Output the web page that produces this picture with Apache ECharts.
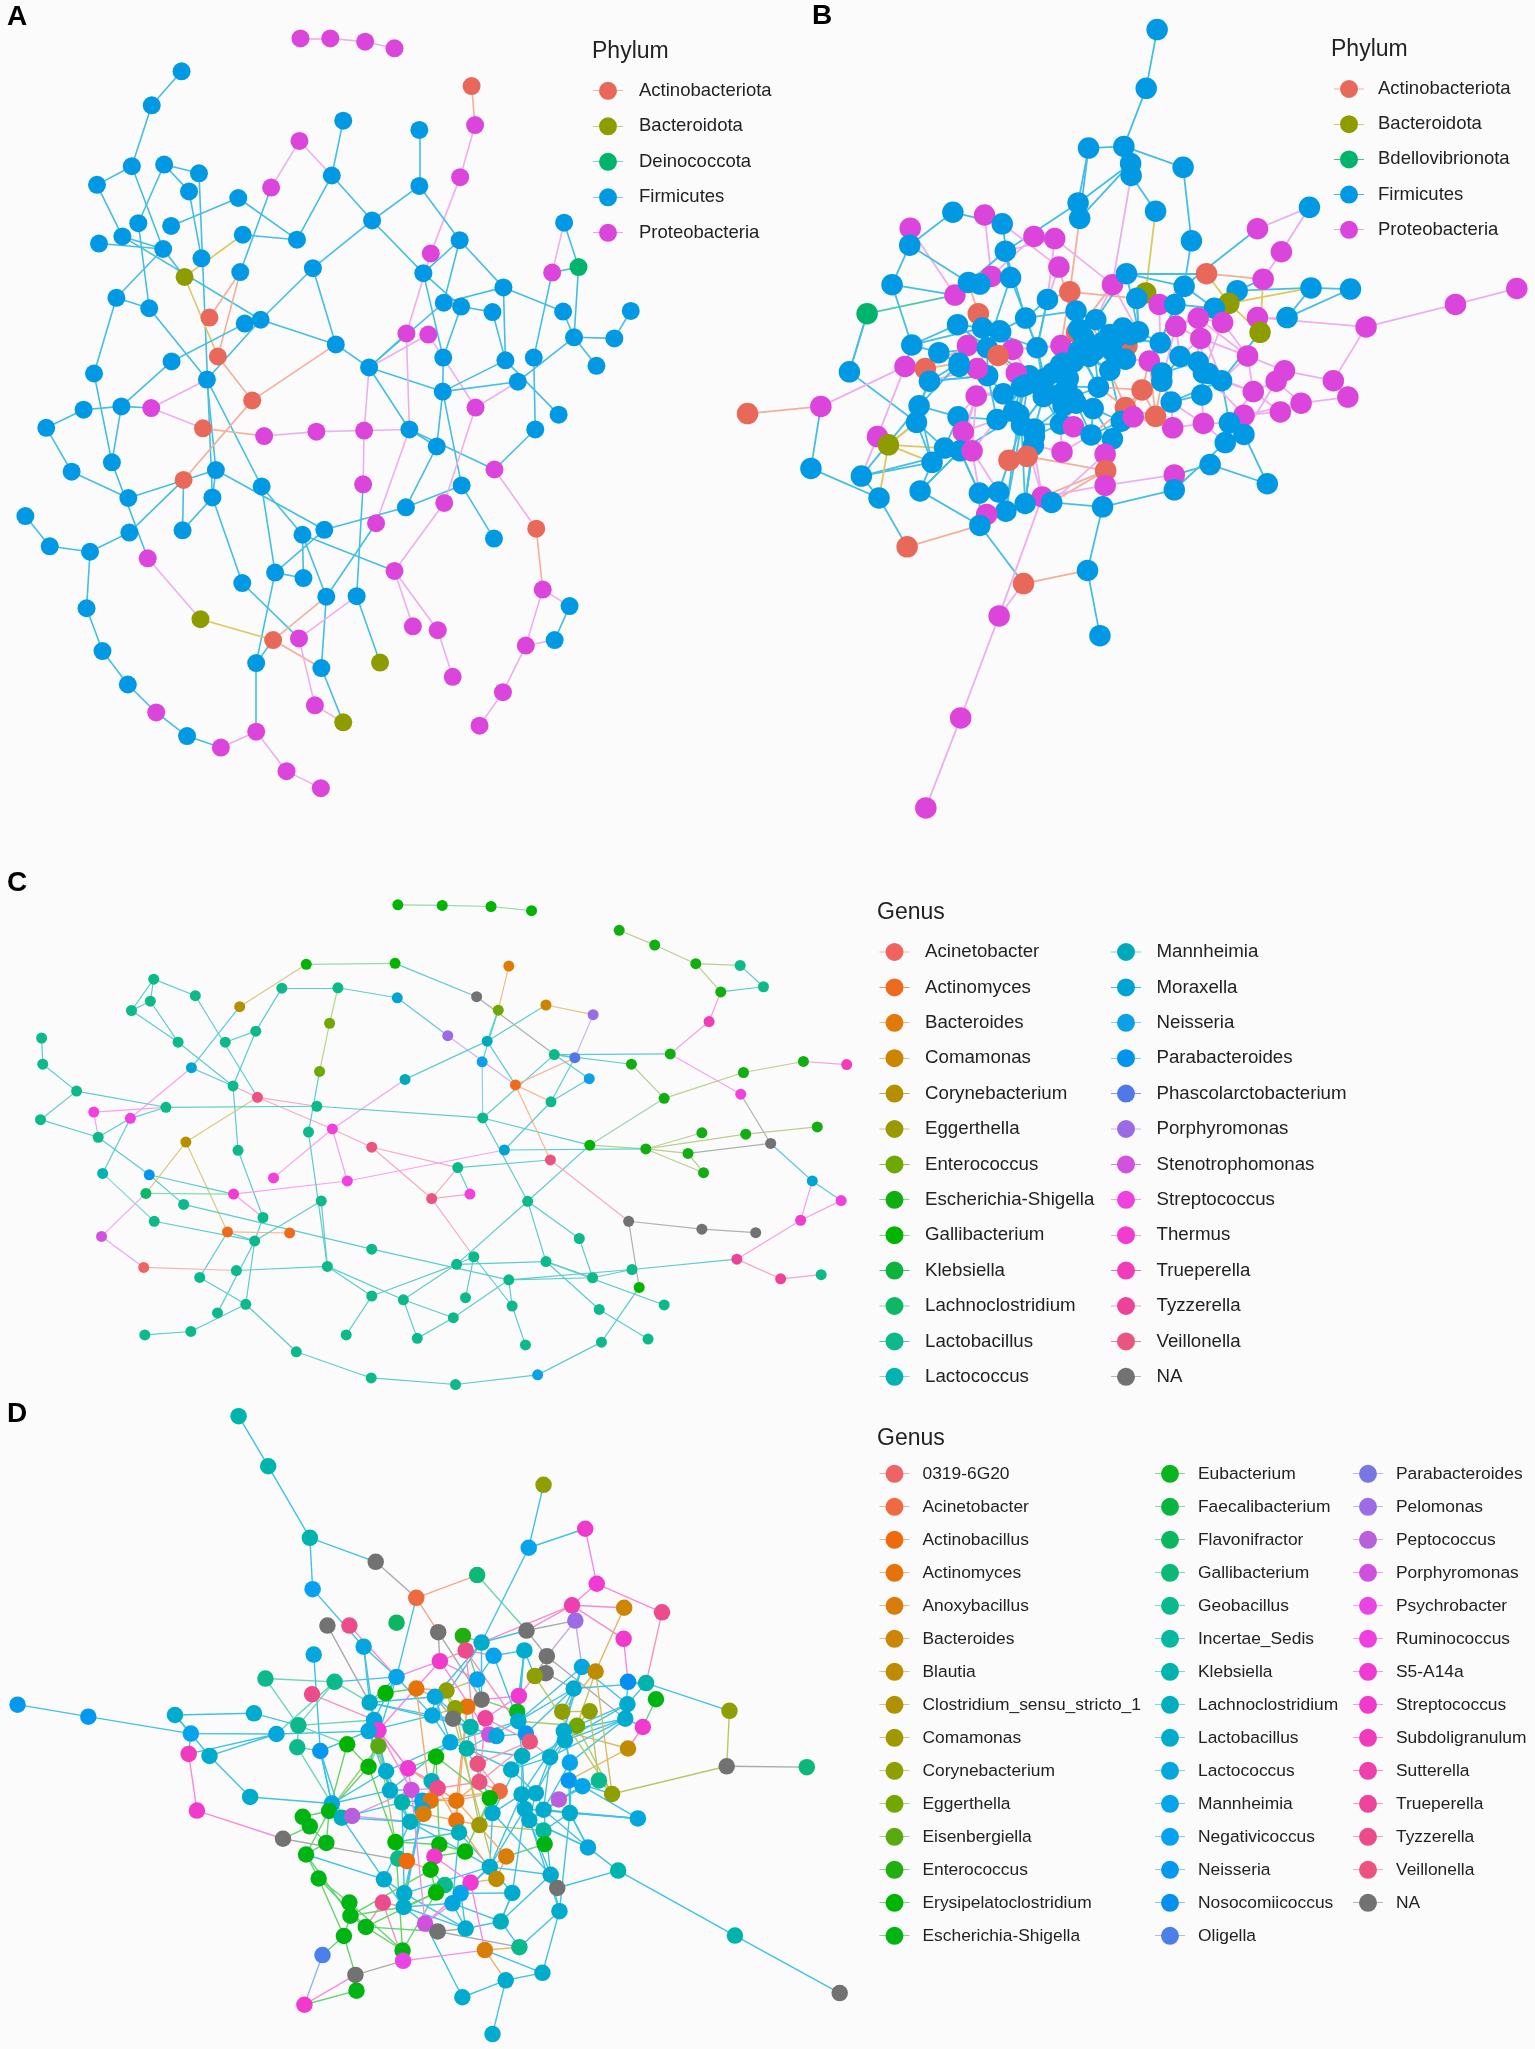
<!DOCTYPE html>
<html><head><meta charset="utf-8">
<style>html,body{margin:0;padding:0;background:#fcfbfb}#c{width:1535px;height:2049px}</style>
<script src="https://cdn.jsdelivr.net/npm/echarts@6/dist/echarts.min.js"></script>
</head><body><div id="c"></div>
<script>
// ---------- categories ----------
const phylaA=['Actinobacteriota','Bacteroidota','Deinococcota','Firmicutes','Proteobacteria'];
const phylaB=['Actinobacteriota','Bacteroidota','Bdellovibrionota','Firmicutes','Proteobacteria'];
const phylaColors=['#E8685A','#8F9C00','#00B46E','#0299E4','#DC45DC'];
const phylaEdgeColors=['#F4AE9C','#DCC860','#50C8B0','#44BEE4','#EEAEEE'];
const generaC=['Acinetobacter','Actinomyces','Bacteroides','Comamonas','Corynebacterium','Eggerthella','Enterococcus','Escherichia-Shigella','Gallibacterium','Klebsiella','Lachnoclostridium','Lactobacillus','Lactococcus','Mannheimia','Moraxella','Neisseria','Parabacteroides','Phascolarctobacterium','Porphyromonas','Stenotrophomonas','Streptococcus','Thermus','Trueperella','Tyzzerella','Veillonella','NA'];
const colorsC=['#EF6461','#EE6A1E','#E07B09','#CC8500','#B49000','#999900','#6FA800','#10AE10','#00B400','#0CB43C','#0CB865','#0CB98A','#00B2B0','#00AABA','#00A4D4','#0BA0E8','#0494F0','#5079E6','#9B6BE5','#D053E0','#F040E0','#F03CD0','#F03CB8','#EC4399','#EA5480','#727272'];
const edgeOverridesC={7:'#B8CF90',8:'#9CD3B0',11:'#5CCCCB',14:'#5CC8E0',25:'#B0B0B0'};
const generaD=['0319-6G20','Acinetobacter','Actinobacillus','Actinomyces','Anoxybacillus','Bacteroides','Blautia','Clostridium_sensu_stricto_1','Comamonas','Corynebacterium','Eggerthella','Eisenbergiella','Enterococcus','Erysipelatoclostridium','Escherichia-Shigella','Eubacterium','Faecalibacterium','Flavonifractor','Gallibacterium','Geobacillus','Incertae_Sedis','Klebsiella','Lachnoclostridium','Lactobacillus','Lactococcus','Mannheimia','Negativicoccus','Neisseria','Nosocomiicoccus','Oligella','Parabacteroides','Pelomonas','Peptococcus','Porphyromonas','Psychrobacter','Ruminococcus','S5-A14a','Streptococcus','Subdoligranulum','Sutterella','Trueperella','Tyzzerella','Veillonella','NA'];
const colorsD=['#EE6464','#EE6A40','#EE6A0C','#E6730A','#D97D0A','#CC8504','#BF8C00','#B09200','#A09800','#8F9E00','#74A600','#58AA10','#20AE10','#00B400','#00B414','#08B420','#0AB440','#0AB660','#0CB878','#0CB98C','#06B8A0','#00B4AE','#00AEC0','#00ABCE','#04A6DE','#06A4EA','#08A0F0','#0698F0','#0490EC','#4C80E8','#7878E4','#9C6CE4','#B860DC','#D050E0','#E845E4','#F03EE0','#F03AD4','#F03ACC','#F03CBC','#EE40AC','#EE449C','#EC4C8C','#EC5480','#727272'];
// ---------- panel A: [x, y, phylum index] on a 0-1568 plot scale; edges [a, b, optional colour category] ----------
const nodesA=[[604,70,4],[664,70,4],[734,76,4],[793,88,4],[948,157,0],[955,228,4],[925,323,4],[866,462,4],[365,130,3],[305,192,3],[265,303,3],[195,337,3],[330,300,3],[400,316,3],[380,349,3],[278,407,3],[344,412,3],[479,361,3],[246,431,3],[199,444,3],[328,454,3],[405,471,3],[488,428,3],[371,505,1],[483,496,3],[545,342,4],[602,257,4],[667,320,3],[690,220,3],[843,237,3],[843,339,3],[748,402,3],[597,437,3],[629,489,3],[924,438,3],[851,498,3],[234,543,3],[300,562,3],[421,579,0],[492,590,3],[524,583,3],[438,650,0],[345,659,3],[189,681,3],[416,692,3],[507,730,0],[675,628,3],[742,670,3],[817,608,4],[861,610,4],[892,552,3],[927,559,3],[990,569,3],[1012,524,3],[1132,568,3],[1134,406,3],[1110,497,4],[1163,487,2],[1154,615,3],[1235,617,3],[1268,567,3],[1199,667,3],[891,652,3],[890,714,3],[1016,657,3],[1041,696,3],[1073,652,3],[1123,756,3],[1076,783,3],[956,743,4],[994,856,4],[823,783,3],[732,785,4],[636,787,4],[531,795,4],[408,781,0],[304,744,4],[244,741,3],[168,747,3],[93,780,3],[144,860,3],[225,843,3],[258,908,3],[369,875,0],[434,857,3],[427,907,3],[367,967,3],[526,887,3],[730,883,4],[878,814,3],[928,885,3],[893,917,4],[816,925,3],[756,954,4],[652,966,3],[608,975,3],[993,982,3],[1078,964,0],[51,941,3],[100,996,3],[181,1006,3],[260,971,3],[297,1018,4],[553,1044,3],[610,1054,3],[487,1063,3],[793,1041,4],[656,1088,3],[717,1087,3],[1091,1075,4],[1145,1105,3],[1115,1167,3],[1057,1177,4],[174,1109,3],[403,1129,1],[549,1167,0],[601,1164,4],[830,1142,4],[880,1149,4],[206,1187,3],[515,1209,3],[646,1218,3],[764,1208,1],[910,1234,4],[1011,1262,4],[257,1248,3],[633,1286,4],[690,1317,1],[964,1323,4],[314,1299,4],[376,1342,3],[444,1363,4],[515,1334,4],[576,1406,4],[645,1437,4]];
const edgesA=[[0,1],[1,2],[2,3],[4,5],[5,6],[6,7],[8,9],[9,10],[10,11],[10,20],[11,18],[12,13],[12,14],[12,15],[13,85],[14,21],[15,37],[16,17],[17,32],[18,20],[18,40],[19,20],[20,36],[23,22],[20,23,3],[22,32],[23,41],[24,38],[24,41],[24,25,3],[25,26],[26,27],[27,28],[27,31],[27,32],[29,30],[30,31],[30,34],[31,33],[31,35],[33,40],[33,46],[34,53],[34,50],[34,35],[7,48],[35,51],[35,62],[36,43],[36,37],[37,44],[39,42],[40,44],[40,46],[41,45],[42,77],[43,81],[44,76],[44,87],[44,84],[45,46],[45,83],[46,47],[47,49],[47,50],[47,48,3],[47,63],[47,71],[47,72],[48,71],[49,69],[50,53],[51,52],[51,62],[52,64],[53,54],[53,64],[54,58],[55,56],[55,57,3],[56,66,3],[56,57],[57,58,3],[58,59],[59,60],[58,61],[58,65],[62,63],[63,64],[63,65],[63,89],[63,90],[64,67],[65,69],[66,68],[68,70,3],[70,71,3],[70,97,4],[71,72],[71,89],[71,93],[72,73],[73,74],[74,75],[75,76,4],[76,77,3],[77,78],[77,81],[78,79],[79,80],[80,82],[81,102,3],[82,84],[83,101,3],[83,86,3],[84,85],[84,94],[85,86],[85,105],[87,95],[87,103],[88,72],[88,108,3],[89,92],[90,92],[90,96],[69,91],[91,106],[92,94],[93,107,3],[94,103],[95,104],[95,107],[95,106,3],[97,109],[98,99],[99,100],[100,101],[100,113],[102,114,4],[103,104],[103,120],[105,116,3],[106,117],[106,118],[107,115],[107,121],[108,116],[108,122,3],[109,110],[109,112],[110,111],[111,112],[112,124],[124,128],[113,119],[114,115],[115,121],[115,120,3],[116,126],[118,123],[119,125],[120,132,3],[121,127,3],[126,127,4],[125,129,3],[129,130,3],[130,131,3],[131,132],[132,133],[133,134]];
// ---------- panel B ----------
const nodesB=[[841,54,3],[820,161,3],[777,267,3],[709,270,3],[790,298,3],[791,320,3],[891,305,3],[838,385,3],[907,439,3],[689,370,3],[692,398,3],[448,387,3],[509,392,4],[366,416,4],[365,447,3],[543,408,3],[549,458,3],[604,431,4],[644,435,4],[652,487,4],[331,519,3],[452,538,4],[283,572,2],[522,504,4],[478,515,3],[500,518,3],[559,506,3],[630,546,3],[673,532,0],[755,519,4],[782,499,3],[819,534,1],[802,544,3],[893,522,3],[936,499,0],[1034,417,4],[1134,378,3],[1080,459,4],[1045,509,4],[995,530,3],[979,553,1],[951,562,3],[1137,525,3],[1213,527,3],[1091,579,3],[1034,579,4],[1039,606,1],[1243,596,4],[1415,555,4],[1533,526,4],[497,572,0],[457,592,3],[588,580,3],[369,629,3],[249,678,3],[356,668,4],[395,672,0],[421,643,3],[403,695,3],[476,630,4],[514,634,3],[563,637,4],[535,648,0],[538,603,3],[505,598,3],[610,634,3],[656,630,4],[686,606,0],[685,567,3],[723,583,3],[735,625,3],[775,598,3],[805,605,3],[783,630,0],[847,625,3],[845,555,4],[875,555,3],[877,595,4],[920,580,4],[967,588,4],[925,617,4],[885,650,3],[920,660,3],[1015,649,4],[965,694,3],[930,680,3],[850,695,3],[826,658,4],[780,655,3],[750,675,3],[710,650,3],[680,660,3],[655,665,3],[625,690,3],[595,685,3],[570,680,4],[580,705,3],[545,718,3],[515,685,3],[495,672,4],[460,662,3],[493,722,4],[625,720,3],[675,725,3],[728,706,3],[812,711,0],[927,720,3],[868,733,3],[1026,714,4],[1070,695,4],[1086,676,4],[1180,694,4],[1208,724,4],[1118,735,4],[1078,751,4],[1008,757,4],[980,771,3],[1008,792,3],[972,807,3],[930,772,4],[871,780,4],[838,759,0],[780,743,0],[718,745,3],[772,768,3],[795,760,4],[660,740,3],[575,756,3],[533,765,3],[458,760,3],[383,740,3],[378,770,3],[194,741,4],[53,754,0],[303,796,4],[324,811,1],[175,854,3],[272,868,3],[408,843,3],[432,817,3],[468,787,4],[462,822,3],[485,822,4],[580,775,3],[605,782,3],[655,773,3],[680,778,4],[714,793,3],[755,800,3],[658,824,4],[741,828,4],[603,812,3],[556,839,0],[591,832,0],[742,858,0],[741,885,4],[874,866,4],[943,847,3],[874,893,3],[1053,882,3],[306,908,3],[385,895,3],[499,899,3],[536,897,3],[620,906,4],[638,916,3],[587,918,3],[550,932,3],[513,938,4],[500,958,3],[736,924,3],[360,997,0],[584,1064,0],[707,1040,3],[731,1159,3],[537,1123,4],[463,1309,4],[396,1473,4],[690,640,3],[720,640,3],[755,640,3],[670,690,3],[650,720,3],[685,735,3],[690,600,3],[700,615,3],[790,610,3],[750,610,3],[610,700,3],[540,605,3],[460,668,3],[605,795,3],[565,750,3],[850,680,3],[763,614,3],[696,647,3],[661,662,3],[667,705,3],[680,726,3],[664,738,3],[622,723,3],[587,702,3],[940,681,3],[640,680,3]];
const edgesB=[[0,1],[1,2],[2,3],[2,4],[2,6],[3,9],[4,5],[4,9],[5,7],[5,29],[6,8],[7,31],[8,33],[9,10],[3,10],[10,28],[4,10],[9,16],[11,14],[11,15],[12,23],[13,21],[14,20],[14,24],[15,19],[15,26],[16,18],[17,23],[18,29],[19,27],[20,21,3],[20,53],[21,22,2],[21,25],[22,54,3],[23,24],[16,24],[16,26],[24,25],[25,26],[27,28],[28,32],[29,30],[30,33],[30,34,3],[34,38],[34,40],[33,41],[35,36],[35,33,3],[36,37],[37,38],[38,39,3],[39,41],[39,42],[40,42],[41,77],[42,43],[42,44],[43,44],[44,45],[45,47],[46,38],[46,40],[46,84,3],[47,48],[48,49],[47,111],[111,112],[111,110],[110,109],[113,112],[114,113],[113,115],[109,108],[109,117],[110,83],[83,78],[84,85],[50,64],[50,63],[51,64],[51,53],[52,65],[52,27],[53,57],[53,55,3],[54,131],[54,22,3],[55,132],[55,56],[56,57,3],[57,100],[58,100],[58,56],[58,130],[59,60],[60,63],[60,98],[61,65],[62,98],[63,64],[64,65],[65,66],[66,67],[67,68],[68,69],[69,70],[70,71],[71,72],[72,74],[74,75],[75,76],[76,77],[77,78],[78,79],[79,83],[80,77],[80,85],[81,82],[82,85],[85,84],[84,83],[86,87],[87,88],[88,89],[89,90],[90,91],[91,92],[92,93],[93,94],[94,95],[95,96],[96,97],[97,98],[98,99],[99,100],[100,59],[101,97],[101,129],[102,103],[103,104],[104,88],[105,86],[105,122],[106,85],[106,107],[107,121],[108,84],[108,83],[116,117],[116,115],[117,118],[118,119],[119,120],[120,121],[121,122],[122,125],[124,125],[123,124],[123,126],[126,145],[127,128],[128,129],[129,130],[130,131],[131,135],[134,135],[134,55],[135,139],[137,138],[137,134],[136,132,3],[132,133],[136,160],[160,171,3],[160,137],[161,138],[161,169],[138,139],[139,141],[140,141],[141,142],[142,101],[143,144],[144,151],[145,146],[146,147],[147,148],[148,150],[149,151],[150,154],[151,153],[152,153],[152,163],[153,154],[154,155],[155,156],[156,157,3],[156,158],[157,159],[158,170],[155,170],[154,164],[162,163],[162,169],[163,167],[164,165],[165,166],[166,167],[167,168],[168,169],[169,172,3],[170,173],[172,173],[172,175,4],[173,174],[175,176],[176,177],[164,175],[171,169],[165,170],[178,179],[179,180],[180,88],[178,90],[178,70],[185,184],[184,69],[185,178],[186,72],[187,71],[187,70],[181,91],[181,103],[182,126],[182,102],[183,103],[183,123],[188,93],[188,102],[189,63],[189,60],[190,100],[190,59],[191,144],[191,151],[192,127],[192,97],[193,86],[193,82],[28,70],[28,68],[29,72],[32,72],[32,76],[31,75],[33,76],[26,60],[26,65],[27,65],[24,50],[16,52],[19,67],[18,27],[60,94],[62,95],[61,94],[65,93],[66,92],[67,91],[70,90],[73,88],[74,87],[74,81],[77,81],[78,82],[80,81],[81,86],[86,107],[87,105],[105,121],[121,124],[122,124],[104,123],[103,126],[97,127],[96,127],[94,102],[93,102],[143,127],[143,145],[145,149],[149,147],[147,124],[148,124],[129,141],[129,140],[101,140],[131,139],[135,138],[130,58],[58,98],[56,100],[100,98],[99,60],[141,162],[141,161],[142,162],[142,163],[143,163],[144,166],[151,166],[151,164],[150,170],[154,165],[155,164],[148,154],[147,150],[125,120],[107,120],[106,119],[119,116],[118,158],[116,84],[117,159],[116,108],[85,115],[115,114],[114,108],[113,109],[108,85],[84,107],[194,71],[194,187],[195,178],[195,90],[196,92],[196,91],[197,181],[197,103],[198,183],[199,182],[199,126],[200,102],[200,93],[201,94],[201,96],[202,85],[202,84],[203,93],[203,92],[197,145],[197,123],[198,147],[199,146],[200,143],[200,144],[201,127],[201,128],[196,66],[195,104],[195,89],[197,104],[194,88],[194,74],[178,104],[179,104],[180,104],[89,122],[89,124],[104,105],[104,122],[123,147],[123,148],[126,144],[145,191],[102,143],[94,143],[96,192],[96,128],[96,101],[98,101],[98,128],[200,145],[143,151],[127,141],[128,142],[128,140],[129,139],[130,138],[131,138],[60,51],[60,57],[64,53],[59,56],[98,58],[99,58],[100,130],[101,141],[52,68],[52,63],[65,27],[65,102],[66,28],[67,29],[68,28],[69,29],[69,30],[72,30],[72,32],[74,33],[74,76],[75,33],[76,41],[77,33],[77,86],[78,84],[79,85],[80,83],[82,84],[85,108],[86,121],[87,121],[87,107],[107,119],[105,124],[105,148],[122,147],[124,155],[148,155],[148,170],[150,165],[164,143],[166,151],[166,143],[167,143],[167,127],[162,141],[161,141],[137,141],[137,130],[160,135],[135,131]];
// ---------- panel C ----------
const nodesC=[[717,101,8],[797,103,8],[885,106,8],[958,118,8],[1116,175,7],[1180,218,7],[1254,272,7],[1334,277,11],[1376,339,11],[1299,354,7],[1278,440,22],[1208,534,7],[1138,564,7],[1197,663,7],[1340,588,7],[1448,556,7],[1526,565,22],[1335,651,20],[1265,763,7],[1344,767,7],[1473,746,7],[1063,799,8],[1164,810,7],[1240,823,7],[1268,879,7],[1389,794,25],[1464,903,14],[1516,960,20],[1443,1017,21],[1328,1130,23],[1407,1187,23],[1480,1175,11],[1133,1020,25],[1265,1043,25],[1362,1053,25],[1139,1160,11],[1152,1212,8],[1197,1263,11],[1168,1362,11],[1080,1276,11],[1084,1371,11],[969,1466,15],[821,1494,11],[669,1475,11],[534,1399,11],[443,1261,11],[392,1286,11],[344,1340,11],[261,1350,11],[426,1163,11],[360,1183,11],[459,1077,11],[474,1009,11],[410,1051,1],[522,1054,1],[670,1101,11],[590,1151,11],[670,1237,11],[727,1248,11],[624,1350,11],[752,1360,11],[817,1300,11],[839,1242,11],[823,1145,11],[854,1123,11],[917,1190,11],[923,1266,11],[947,1379,11],[984,1137,11],[1068,1184,11],[1044,1070,11],[951,962,11],[992,842,24],[909,813,14],[870,720,11],[993,673,11],[929,624,1],[869,557,15],[878,497,13],[898,407,6],[917,279,2],[859,368,25],[984,392,3],[1069,420,18],[999,536,11],[1036,545,17],[1062,606,15],[807,481,18],[730,608,13],[716,371,14],[609,342,11],[508,343,11],[552,274,8],[712,271,8],[594,445,6],[576,585,6],[571,686,11],[556,761,11],[599,752,20],[670,805,24],[825,864,11],[847,941,20],[778,954,24],[626,903,20],[579,961,11],[493,894,20],[464,660,24],[420,627,11],[429,814,11],[345,574,14],[432,397,4],[461,468,11],[406,500,11],[321,500,11],[237,408,11],[271,381,11],[277,317,11],[352,365,11],[75,488,11],[77,564,11],[138,642,11],[73,725,11],[177,776,11],[235,721,20],[169,703,20],[299,689,11],[335,790,4],[269,885,16],[185,881,12],[263,939,10],[421,941,21],[331,971,11],[278,1020,11],[183,1064,19],[259,1154,0]];
const edgesC=[[0,1],[1,2],[2,3],[4,5],[5,6],[6,7,7],[7,8],[6,9],[8,9,11],[9,10],[10,11],[11,84,11],[11,17],[84,85,11],[84,12,11],[12,13],[13,14],[14,15],[15,16],[13,21],[17,25],[25,26],[26,27,14],[26,28,20],[27,28],[28,29],[29,30],[30,31],[29,35,11],[35,65],[35,69],[21,22,7],[22,18],[22,19],[19,20],[22,23],[23,25],[22,24],[23,24],[73,22,11],[21,74,11],[21,71,11],[71,74],[71,63],[71,68],[71,70],[70,69],[72,76],[72,100,11],[72,32,24],[32,33],[33,34],[32,36,25],[36,40,11],[40,41,11],[41,42,11],[42,43],[43,44],[44,45],[45,50],[45,47],[47,48],[46,51],[45,51],[51,52],[51,53,11],[53,54],[53,50,11],[53,126],[52,108],[52,130],[108,107],[107,106,24],[107,113],[106,96,24],[106,98],[106,126,4],[98,99],[98,103],[98,88,20],[98,105],[99,100,24],[99,102],[100,102,24],[101,102],[100,101,11],[102,64,24],[103,130,20],[103,73,20],[104,51],[104,56],[95,97,11],[97,56],[95,94],[94,90,6],[90,91],[90,89,11],[89,87,14],[91,111],[111,112],[111,107],[92,93],[92,110],[93,81,11],[110,109,14],[109,107],[109,123,20],[113,114],[114,115],[115,116],[114,116],[113,115],[116,117],[117,106,11],[118,119],[119,120],[120,121],[120,125],[121,122],[122,123,11],[122,127,11],[123,125,11],[124,125],[124,122,20],[125,96],[96,74],[123,128,11],[128,132],[132,51],[127,130,11],[127,131,11],[131,55],[129,130],[129,126,4],[129,133,19],[133,134],[134,49,0],[49,56],[56,57],[56,58],[55,65],[57,63],[58,63],[58,61],[58,60],[60,61],[61,65],[57,59],[62,64],[64,66],[63,68],[63,64],[65,66],[66,67],[65,69],[68,69],[68,39],[39,38],[68,37],[74,84],[73,75,11],[75,86,11],[75,85,11],[75,76,1],[76,85,1],[76,78,11],[76,87,18],[77,74,15],[77,79,11],[78,79,11],[78,82,11],[78,88,11],[79,80],[81,84,25],[82,83,3],[83,85,18],[84,86,11]];
// ---------- panel D ----------
const nodesD=[[435,39,21],[489,160,21],[565,333,21],[685,391,43],[570,457,26],[991,205,9],[1067,311,37],[964,357,25],[870,423,18],[759,478,1],[1088,444,36],[1043,496,39],[1138,502,5],[1207,513,41],[597,545,43],[637,545,41],[723,538,17],[799,561,43],[844,570,12],[878,586,23],[960,557,43],[1049,533,31],[1137,577,37],[663,596,24],[572,615,24],[849,605,41],[900,618,25],[956,605,23],[802,631,37],[997,619,43],[1061,645,24],[1086,656,6],[995,660,43],[975,667,9],[723,669,25],[610,681,19],[484,673,19],[569,711,41],[703,708,13],[759,697,3],[814,702,9],[870,675,25],[946,715,36],[1046,697,23],[1145,681,28],[1178,684,21],[1196,723,14],[1330,751,9],[674,731,23],[793,717,24],[878,724,43],[852,741,3],[830,745,9],[943,753,15],[1025,753,9],[1075,752,9],[1144,735,23],[319,761,23],[463,757,23],[32,736,27],[161,765,27],[788,762,24],[826,770,43],[885,769,40],[945,776,23],[1052,787,10],[1140,770,23],[1172,790,37],[682,773,24],[544,786,19],[348,806,25],[504,807,24],[690,798,36],[672,800,24],[858,790,21],[892,808,33],[905,812,24],[959,806,27],[966,825,42],[1028,800,23],[1030,822,23],[633,832,13],[690,836,11],[821,827,24],[851,842,21],[542,839,19],[584,848,27],[344,855,38],[382,860,23],[1145,842,6],[952,860,22],[795,862,13],[1003,863,23],[871,879,42],[1039,876,25],[672,886,13],[744,890,36],[704,897,23],[932,893,23],[787,921,22],[874,923,42],[1037,919,27],[1092,919,19],[1062,933,25],[711,943,23],[750,942,33],[798,938,41],[911,945,1],[951,953,23],[977,950,23],[1116,952,9],[1325,885,43],[1471,887,18],[456,959,23],[733,972,21],[770,968,24],[785,968,3],[832,968,3],[893,962,13],[1019,965,32],[605,975,24],[359,992,37],[600,993,14],[623,1009,22],[642,1005,32],[552,1007,14],[565,1030,14],[770,990,24],[898,998,23],[957,988,23],[991,990,23],[1039,998,23],[1163,1011,24],[748,1019,22],[772,1000,4],[832,1016,3],[874,1027,8],[965,1015,23],[837,1045,22],[991,1040,20],[516,1060,43],[595,1070,14],[721,1068,13],[801,1074,13],[993,1073,14],[1072,1081,24],[558,1098,14],[848,1091,13],[726,1108,19],[742,1114,2],[792,1103,37],[923,1103,4],[785,1135,13],[893,1128,23],[1127,1137,21],[581,1156,14],[700,1158,23],[1004,1147,23],[905,1157,6],[858,1166,36],[811,1172,19],[1016,1179,43],[737,1192,23],[795,1190,13],[840,1192,25],[825,1216,24],[934,1191,23],[637,1214,14],[698,1214,41],[736,1225,23],[639,1246,14],[1020,1235,23],[667,1273,14],[775,1265,33],[913,1260,22],[849,1277,23],[798,1284,43],[627,1295,14],[1340,1294,21],[947,1322,19],[884,1329,4],[734,1330,14],[588,1341,29],[735,1355,34],[989,1384,23],[648,1389,43],[922,1402,23],[650,1427,14],[843,1443,23],[555,1461,37],[1531,1433,43],[898,1532,23]];
const edgesD=[[0,1],[1,2],[2,3],[2,4],[3,9],[9,17],[9,8],[34,9],[8,20],[7,5],[7,6],[7,19],[6,10],[10,11],[10,13],[13,45],[11,12],[11,22],[11,19],[11,20],[12,31],[22,44],[4,23],[14,48],[23,34],[23,68],[15,34],[17,28],[17,50],[18,19],[18,41],[19,20],[20,21],[20,29],[21,29],[21,30],[25,28],[25,26],[26,27],[27,33],[28,34],[28,41],[29,32],[29,33],[29,66],[30,43],[30,31],[31,65],[31,54],[32,33],[32,43],[34,35],[34,38],[35,36],[35,71],[36,69],[37,68],[38,39],[38,48],[39,40],[39,49],[40,41],[40,52],[41,50],[42,50],[42,33],[42,53],[43,45],[43,54],[44,45],[44,66],[45,47],[45,56],[46,67],[47,111],[111,112],[110,111],[56,66],[66,67],[67,89],[89,79],[89,101],[66,80],[54,55],[55,65],[65,64],[64,77],[53,64],[53,50],[50,51],[51,52],[52,61],[61,62],[62,49],[48,49],[49,61],[57,58],[57,70],[57,88],[58,69],[59,60],[60,70],[70,71],[70,87],[71,73],[71,88],[71,87],[87,121],[121,140],[88,113],[113,120],[69,85],[69,81],[69,68],[85,120],[85,86],[86,120],[86,73],[81,122],[81,95],[82,122],[82,95],[82,97],[68,73],[68,48],[72,73],[72,96],[73,97],[74,84],[74,75],[75,76],[76,77],[77,78],[78,92],[78,90],[79,80],[80,92],[80,94],[83,84],[83,91],[84,90],[90,98],[91,99],[91,96],[92,98],[93,107],[93,100],[94,101],[95,122],[96,99],[96,105],[97,104],[98,109],[99,106],[100,106],[100,107],[101,103],[101,110],[102,110],[102,119],[103,130],[103,119],[104,114],[104,105],[105,106],[105,124],[106,116],[107,117],[107,118],[108,109],[108,129],[109,130],[114,115],[115,116],[116,117],[117,135],[118,128],[119,130],[120,122],[120,123],[122,125],[122,141],[123,124],[124,133],[125,126],[126,140],[126,141],[141,146],[146,155],[155,167],[155,177],[140,149],[127,133],[127,134],[128,136],[129,137],[130,137],[131,132],[130,131],[131,145],[133,138],[134,135],[135,136],[136,139],[137,139],[137,145],[138,142],[139,144],[144,151],[142,143],[142,148],[143,150],[147,150],[148,149],[149,152],[150,152],[151,153],[151,158],[153,157],[153,166],[154,145],[154,178],[178,190],[154,161],[161,157],[157,171],[171,184],[184,186],[184,180],[180,186],[180,179],[186,188],[186,191],[188,173],[173,165],[173,176],[176,179],[176,175],[175,174],[174,166],[174,179],[166,164],[164,165],[165,169],[162,169],[162,156],[156,146],[160,163],[163,159],[158,159],[159,164],[160,152],[163,169],[168,169],[168,172],[168,183],[167,170],[170,177],[170,172],[172,176],[177,182],[177,185],[182,189],[185,183],[181,183],[183,180],[185,187],[187,189],[189,185],[181,163],[181,172],[139,131],[129,132],[170,169],[169,173],
[19,49],[19,61],[19,50],[34,61],[34,48],[34,68],[34,95],[23,48],[24,86],[35,69],[35,48],[48,61],[48,74],[49,74],[49,83],[26,41],[26,64],[27,42],[27,64],[27,53],[30,64],[30,79],[30,56],[43,64],[43,79],[43,77],[56,80],[56,79],[66,79],[66,92],[66,94],[79,92],[79,94],[80,98],[64,83],[64,84],[64,90],[61,83],[61,73],[61,74],[68,97],[73,104],[68,104],[83,97],[83,104],[84,98],[84,118],[90,129],[90,128],[90,108],[92,109],[92,130],[94,130],[94,131],[101,131],[103,137],[131,145],[132,130],[132,103],[145,130],[145,137],[79,108],[80,109],[120,104],[120,97],[120,86],[86,123],[123,114],[123,133],[123,156],[104,133],[97,133],[114,127],[127,162],[133,156],[115,169],[127,169],[114,162],[138,153],[138,165],[133,153],[153,162],[128,153],[128,157],[129,153],[129,166],[137,157],[137,171],[130,157],[131,171],[108,153],[108,128],[109,137],[156,169],[162,175],[169,175],[165,175],[164,175],[165,174],[166,174],[153,164],[153,165],[157,174],[171,179],[116,107],[117,100],[117,151],[135,158],[135,106],[136,118],[117,96],[116,99],[39,116],[51,117],[51,135],[31,110],[33,110],[55,102],[65,110],[52,136],[40,158],[42,63],[95,142],[82,142],[91,143],[91,118],[143,147],[142,181],[118,147],[163,172],[152,163],[152,170],[167,181],[122,146],[146,170],[155,172],[63,78],[63,100],[25,78],[25,93],[78,93],[100,78],[96,72],[72,105],[28,72],[28,75],[105,173],[150,159],[159,173],[159,180]];

// ---------- drawing ----------
function mixWhite(hex,t){const n=parseInt(hex.slice(1),16);const c=[n>>16&255,n>>8&255,n&255].map(v=>Math.round(v+(255-v)*t));return 'rgb('+c.join(',')+')';}
function panelSeries(idx,nodes,edges,names,colors,edgeColors,size,width,firstWins){
  const count={};nodes.forEach(n=>count[n[2]]=(count[n[2]]||0)+1);
  return {type:'graph',coordinateSystem:'cartesian2d',xAxisIndex:idx,yAxisIndex:idx,layout:'none',silent:true,animation:false,
    symbol:'circle',symbolSize:size,roam:false,legendHoverLink:false,
    categories:names.map((name,i)=>({name,itemStyle:{color:colors[i]}})),
    data:nodes.map(n=>({value:[n[0],n[1]],category:n[2]})),
    links:edges.map(([s,t,o])=>{const a=nodes[s][2],b=nodes[t][2];
      const k=o!==undefined?o:(firstWins||count[a]<=count[b]?a:b);
      return {source:s,target:t,lineStyle:{color:edgeColors[k]}};}),
    lineStyle:{width,opacity:1,curveness:0},label:{show:false},emphasis:{disabled:true}};
}
const panels=[{l:0,t:0,w:780,h:860},{l:720,t:0,w:815,h:860},{l:0,t:870,w:870,h:540},{l:0,t:1400,w:860,h:649}];
const icon='path://M15 0A9 9 0 1 1 15 18A9 9 0 1 1 15 0ZM0 8.7H30V9.3H0Z';
function legendCol(left,top,names,colors,gap,size,fs,pad){
  return {left,top,orient:'vertical',padding:0,itemWidth:30,itemHeight:size,itemGap:gap,selectedMode:false,
    textStyle:{fontFamily:'Liberation Sans',fontSize:fs,color:'#222',padding:[0,0,0,pad]},
    data:names.map(n=>({name:n,icon,itemStyle:{color:colors[n]}}))};
}
const mapOf=(names,cols)=>{const m={};names.forEach((n,i)=>m[n]=cols[i]);return m;};
const mA=mapOf(phylaA,phylaColors),mB=mapOf(phylaB,phylaColors),mC=mapOf(generaC,colorsC),mD=mapOf(generaD,colorsD);
const txt=(text,left,top,fontSize,fontWeight)=>({text,left,top,padding:0,textStyle:{fontFamily:'Liberation Sans',fontSize,fontWeight:fontWeight||'normal',color:fontWeight?'#000':'#222'}});
const edgeColorsC=colorsC.map((c,i)=>edgeOverridesC[i]||mixWhite(c,0.5));
const edgeColorsD=colorsD.map((c,i)=>i>=20&&i<=28?'#40C2E4':mixWhite(c,0.4));
const option={backgroundColor:'#fcfbfb',animation:false,
  title:[txt('A',7,3,28,'bold'),txt('B',812,2,28,'bold'),txt('C',7,869,28,'bold'),txt('D',7,1400,28,'bold'),
    txt('Phylum',592,40,23),txt('Phylum',1331,38,23),txt('Genus',877,901,23),txt('Genus',877,1427,23)],
  grid:panels.map(p=>({left:p.l,top:p.t,width:p.w,height:p.h})),
  xAxis:panels.map((p,i)=>({gridIndex:i,type:'value',min:0,max:1568,show:false})),
  yAxis:panels.map((p,i)=>({gridIndex:i,type:'value',min:0,max:1568,inverse:true,show:false})),
  legend:[
    legendCol(593,81.3,phylaA,mA,16.5,19,18.5,11),
    legendCol(1334,79.5,phylaB,mB,16.2,19,18.5,9),
    legendCol(879.5,942.5,generaC.slice(0,13),mC,16.4,19,18.7,10.5),
    legendCol(1111,942.5,generaC.slice(13),mC,16.4,19,18.7,10.5),
    legendCol(879.5,1464.8,generaD.slice(0,15),mD,15,18,17.4,8),
    legendCol(1155,1464.8,generaD.slice(15,30),mD,15,18,17.4,8),
    legendCol(1353,1464.8,generaD.slice(30),mD,15,18,17.4,8)
  ],
  series:[
    panelSeries(0,nodesA,edgesA,phylaA,phylaColors,phylaEdgeColors,18,1.6),
    panelSeries(1,nodesB,edgesB,phylaB,phylaColors,phylaEdgeColors,21.5,1.8),
    panelSeries(2,nodesC,edgesC,generaC,colorsC,edgeColorsC,11,1.2),
    panelSeries(3,nodesD,edgesD,generaD,colorsD,edgeColorsD,16.5,1.4,true)
  ]};
echarts.init(document.getElementById('c'),null,{renderer:'canvas'}).setOption(option);
</script></body></html>
